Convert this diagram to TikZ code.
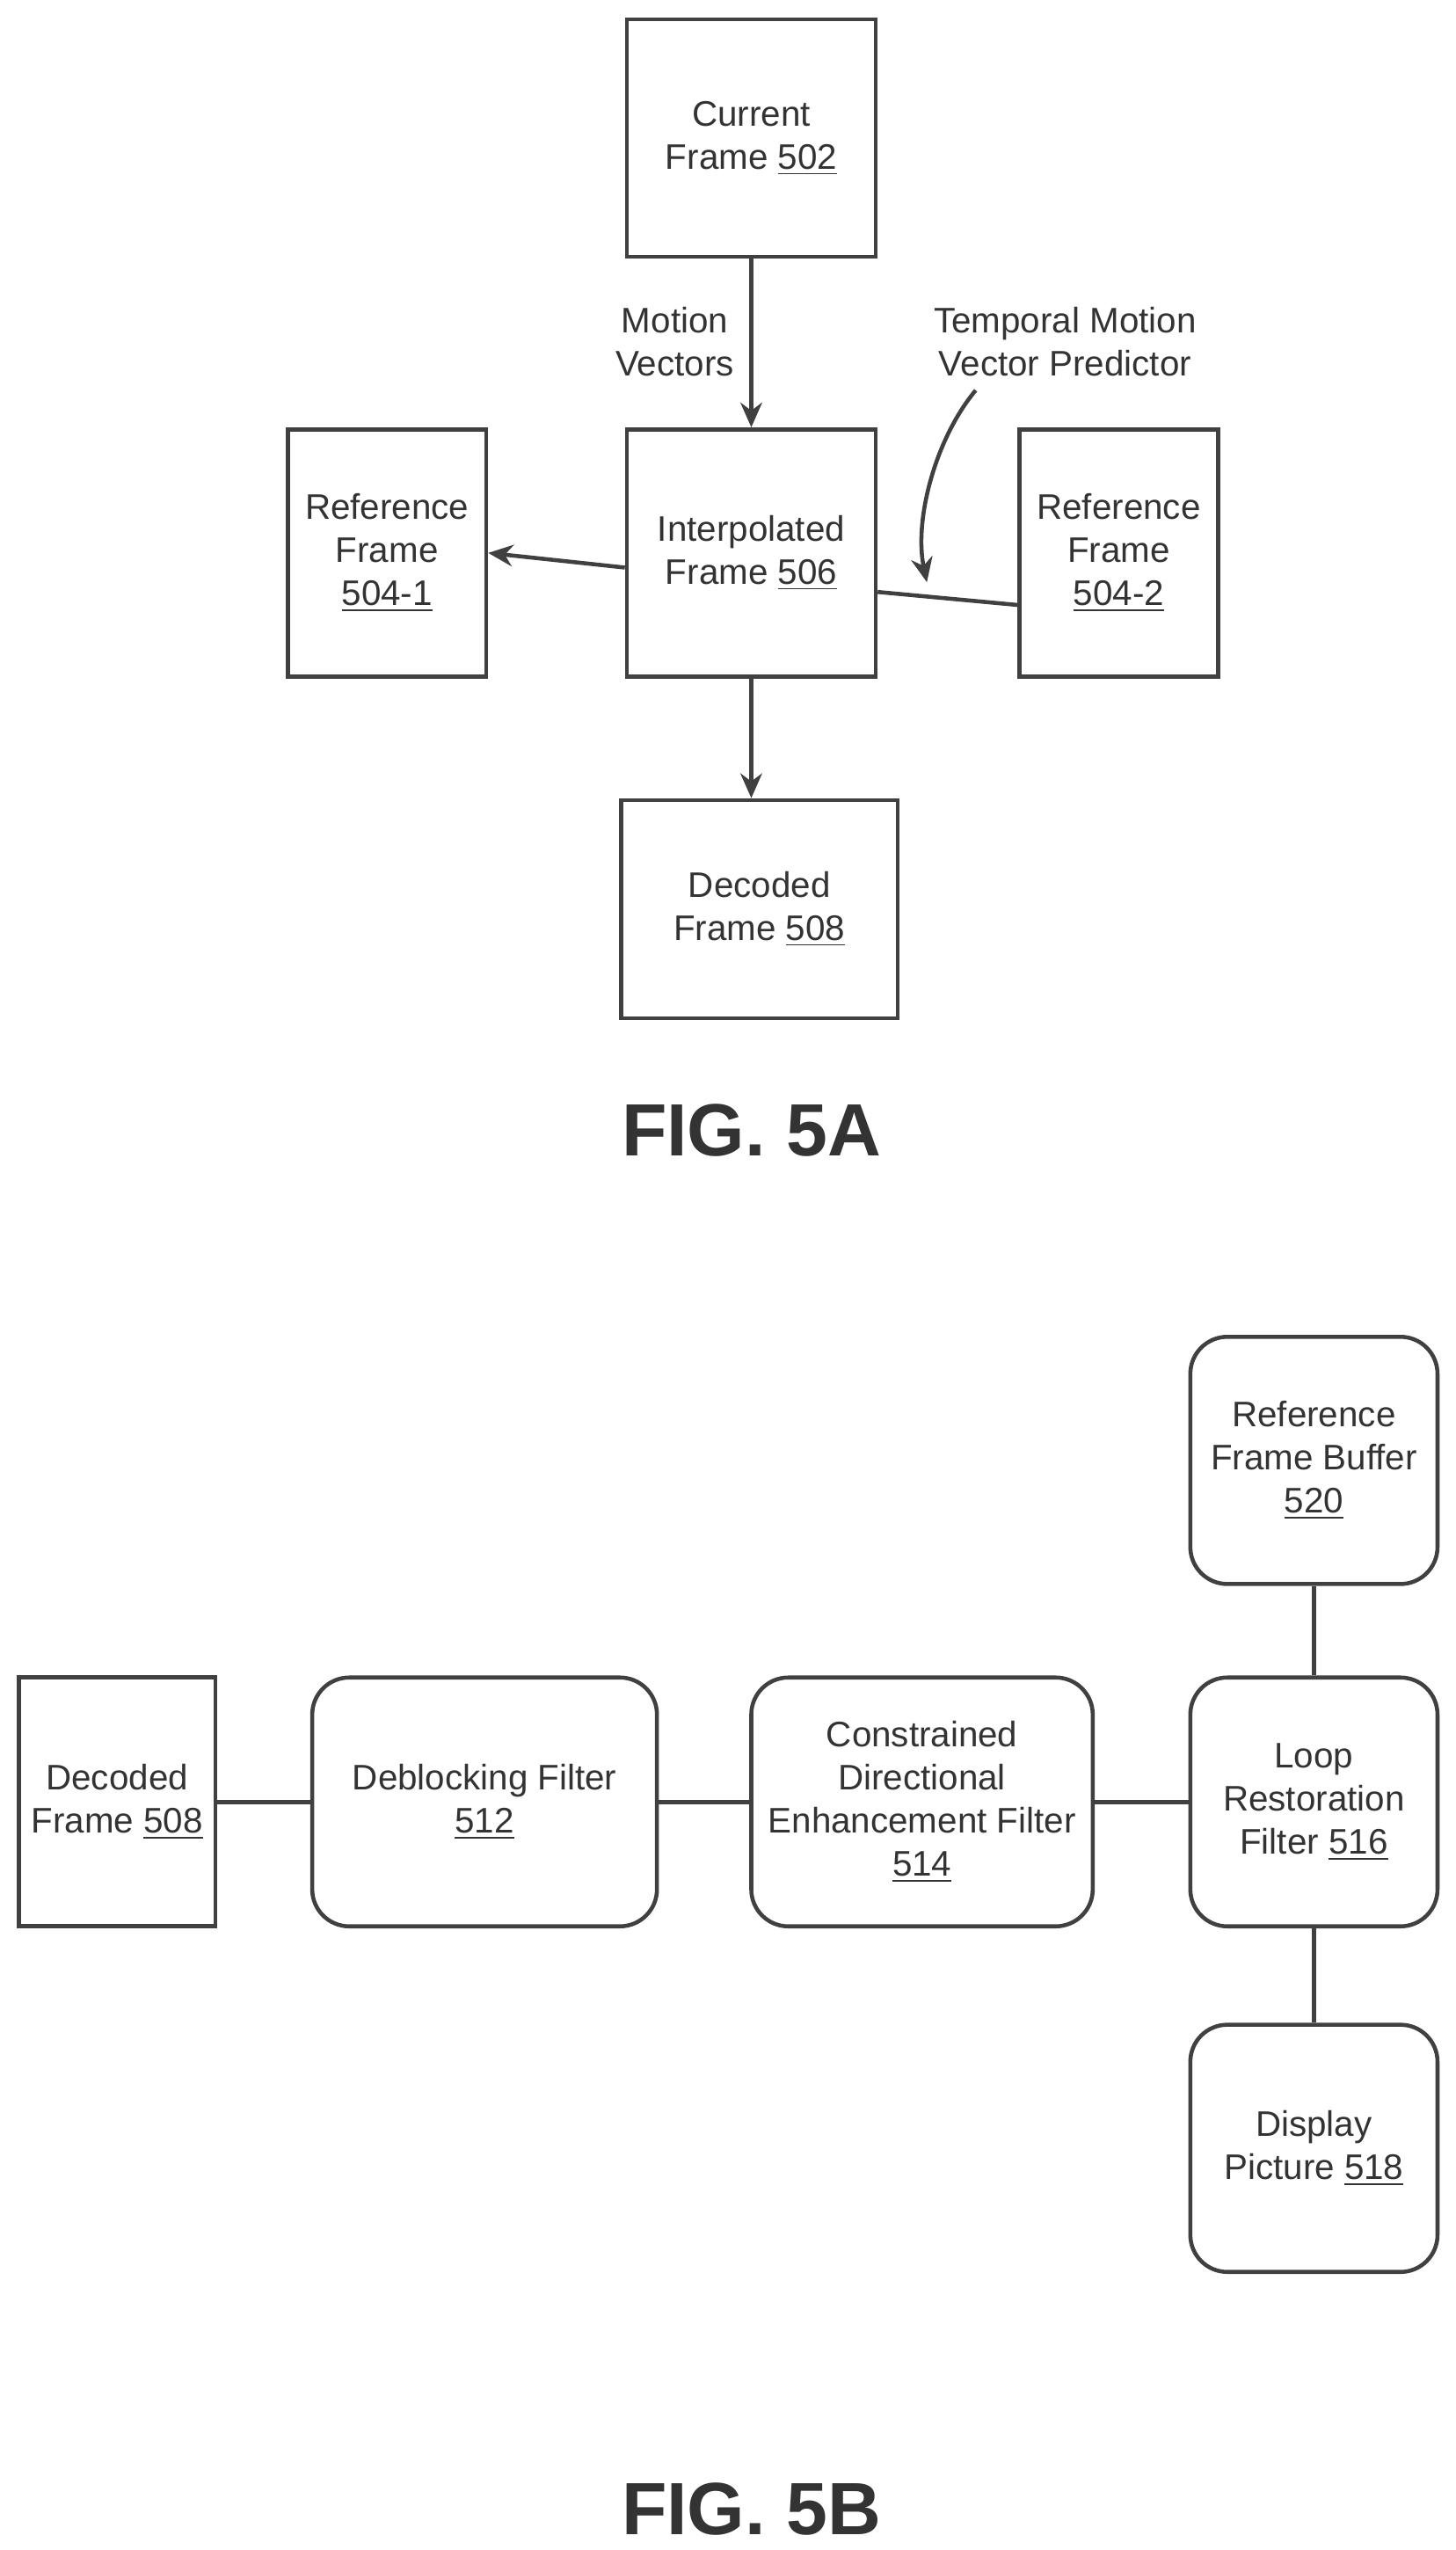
\documentclass[tikz,border=0pt]{standalone}
\usepackage{fontspec}
\setmainfont{Liberation Sans}
\usetikzlibrary{arrows.meta, positioning}
\newcommand{\dpx}{0.01852cm}

\begin{document}
\begin{tikzpicture} [
    x=0.01852cm, y=-0.01852cm,
    box/.style={draw=black!75, line width=1.3pt, align=center,
        inner sep=2pt, font=\fontsize{11.5}{14}\selectfont, text=black!80},
    sq/.style={box},
    rnd/.style={box, rounded corners=12pt},
    sz/.style 2 args={minimum width=#1*\dpx, minimum height=#2*\dpx},
    link/.style={draw=black!75, line width=1.3pt},
    arr/.style={link, -{Stealth[length=8pt,width=7pt]}},
    lbl/.style={align=center, font=\fontsize{11.5}{14}\selectfont, text=black!80},
    fig/.style={font=\fontsize{24}{28}\bfseries\selectfont, text=black!80}]

\useasboundingbox (0,0) rectangle (895,1568);

% FIG. 5A
\node (cur) [sq, sz={153}{146}] at (462,85) {Current\\Frame \underline{502}};
\node (itp) [sq, sz={153}{152}] at (462,340) {Interpolated\\Frame \underline{506}};
\node (ref1) [sq, sz={122}{152}] at (238,340) {Reference\\Frame\\\underline{504-1}};
\node (ref2) [sq, sz={122}{152}] at (688,340) {Reference\\Frame\\\underline{504-2}};
\node (dec) [sq, sz={170}{134}] at (467,559) {Decoded\\Frame \underline{508}};

\node (mv) [lbl] at (415,210) {Motion\\Vectors};
\node (tmvp) [lbl] at (655,210) {Temporal Motion\\Vector Predictor};
\coordinate (tstart) at (600,240);
\coordinate (tip) at (570,358);

\draw [arr] (cur) -- (itp);
\draw [arr] (itp.south) -- (itp.south |- dec.north);
\draw [arr] (itp.west |- 0,349) -- (ref1.east |- 0,340);
\draw [link] (ref2.west |- 0,372) -- (itp.east |- 0,364);
\draw [arr] (tstart) .. controls (575,270) and (562,320) .. (tip);

\node (fa) [fig] at (462,695) {FIG. 5A};

% FIG. 5B
\node (dec2) [sq, sz={121}{153}] at (72,1108) {Decoded\\Frame \underline{508}};
\node (dbf) [rnd, sz={212}{153}] at (298,1108) {Deblocking Filter\\\underline{512}};
\node (cdef) [rnd, sz={210}{153}] at (567,1108) {Constrained\\Directional\\Enhancement Filter\\\underline{514}};
\node (lrf) [rnd, sz={152}{153}] at (808,1108) {Loop\\Restoration\\Filter \underline{516}};
\node (rfb) [rnd, sz={152}{152}] at (808,898) {Reference\\Frame Buffer\\\underline{520}};
\node (disp) [rnd, sz={152}{152}] at (808,1321) {Display\\Picture \underline{518}};

\draw [link] (dec2) -- (dbf);
\draw [link] (dbf) -- (cdef);
\draw [link] (cdef) -- (lrf);
\draw [link] (lrf) -- (rfb);
\draw [link] (lrf) -- (disp);

\node (fb) [fig] at (462,1543) {FIG. 5B};
\end{tikzpicture}
\end{document}
